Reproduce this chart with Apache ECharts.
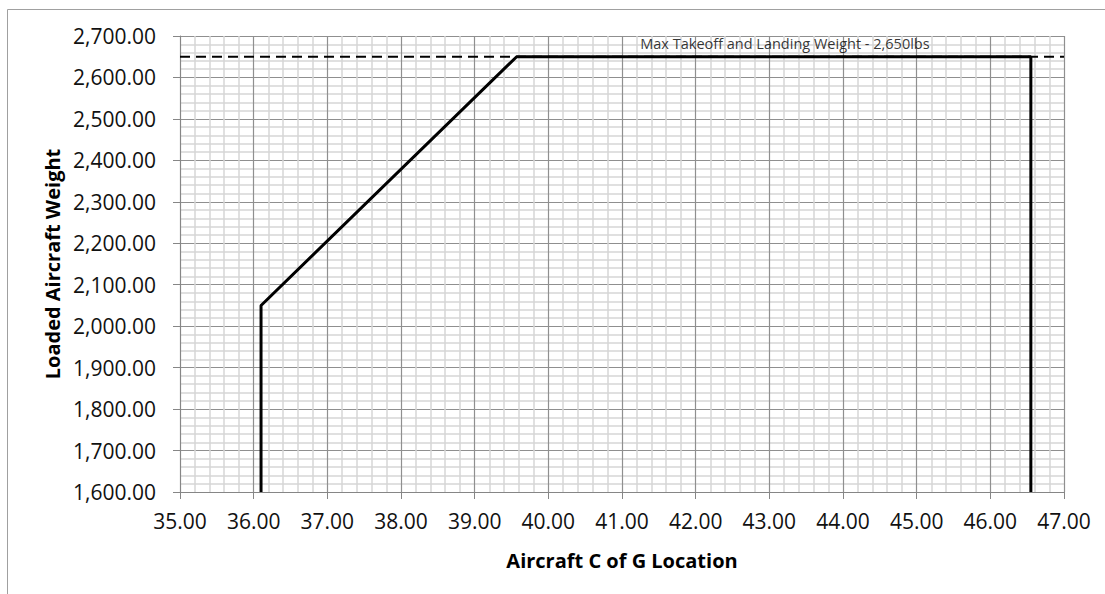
<!DOCTYPE html>
<html>
<head>
<meta charset="utf-8">
<script src="https://cdn.jsdelivr.net/npm/echarts@6/dist/echarts.min.js"></script>
<style>
html,body{margin:0;padding:0;background:#fff;}
#c{width:1105px;height:594px;}
</style>
</head>
<body>
<div id="c"></div>
<script>
// Envelope data
var cgLocation = [36.1, 36.1, 39.57, 46.55, 46.55];
var loadedWeight = [1600, 2050, 2650, 2650, 1600];
// Max weight reference line
var maxWeightX = [35, 47];
var maxWeightY = [2650, 2650];
var annotationText = 'Max Takeoff and Landing Weight - 2,650lbs';
var annotationPos = [41.18, 2650];
// Axis ranges
var xMin = 35, xMax = 47, xStep = 1;
var yMin = 1600, yMax = 2700, yStep = 100;
var xTitle = 'Aircraft C of G Location';
var yTitle = 'Loaded Aircraft Weight';

function fmt(v){
  return v.toLocaleString('en-US',{minimumFractionDigits:2,maximumFractionDigits:2});
}
var FONT = '"Open Sans", sans-serif';
var chart = echarts.init(document.getElementById('c'), null, {renderer:'svg'});
var envelope = cgLocation.map(function(x,i){return [x, loadedWeight[i]];});
var maxLine = maxWeightX.map(function(x,i){return [x, maxWeightY[i]];});

chart.setOption({
  animation:false,
  backgroundColor:'#fff',
  grid:{left:180, right:41, top:36, bottom:102, containLabel:false},
  xAxis:{
    type:'value', min:xMin, max:xMax, interval:xStep,
    axisLine:{show:true, lineStyle:{color:'#868686', width:1}},
    axisTick:{show:true, length:7, lineStyle:{color:'#868686'}},
    axisLabel:{formatter:fmt, fontFamily:FONT, fontSize:21, color:'#111', margin:18},
    splitLine:{show:true, lineStyle:{color:'#8f8f8f', width:1.2}},
    minorTick:{show:false, splitNumber:5},
    minorSplitLine:{show:true, lineStyle:{color:'#d6d6d6', width:1.5}}
  },
  yAxis:{
    type:'value', min:yMin, max:yMax, interval:yStep,
    axisLine:{show:true, lineStyle:{color:'#868686', width:1}},
    axisTick:{show:true, length:7, lineStyle:{color:'#868686'}},
    axisLabel:{formatter:fmt, fontFamily:FONT, fontSize:21, color:'#111', margin:24},
    splitLine:{show:true, lineStyle:{color:'#8f8f8f', width:1.2}},
    minorTick:{show:false, splitNumber:5},
    minorSplitLine:{show:true, lineStyle:{color:'#d6d6d6', width:1.5}}
  },
  graphic:[
    {type:'rect', silent:true, z:-10, shape:{x:7.5, y:9.5, width:1200, height:700}, style:{fill:'none', stroke:'#a0a0a0', lineWidth:1}},
    {type:'text', style:{text:xTitle, font:'bold 20px '+FONT, fill:'#000', textAlign:'center', textVerticalAlign:'middle'}, x:622, y:560},
    {type:'text', rotation:Math.PI/2, style:{text:yTitle, font:'bold 20px '+FONT, fill:'#000', textAlign:'center', textVerticalAlign:'middle'}, x:52, y:264}
  ],
  series:[
    {type:'line', data:maxLine, symbol:'none', z:2,
     lineStyle:{color:'#000', width:2, type:[10,6]}},
    {type:'scatter', data:[annotationPos], symbolSize:0, z:3, silent:true,
     label:{show:true, position:'insideLeft', formatter:annotationText, fontFamily:FONT, fontSize:14.5, color:'#000', offset:[0,-13], align:'left'}},
    {type:'line', data:envelope, symbol:'none', z:4,
     lineStyle:{color:'#000', width:3}}
  ]
});
</script>
</body>
</html>
